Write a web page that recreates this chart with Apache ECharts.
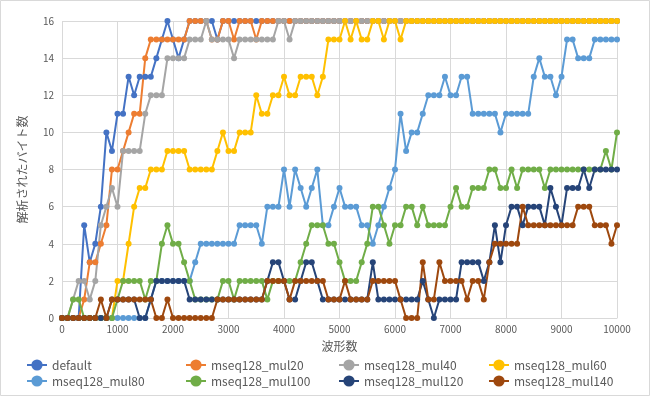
<!DOCTYPE html>
<html>
<head>
<meta charset="utf-8">
<script src="https://cdn.jsdelivr.net/npm/echarts@6/dist/echarts.min.js"></script>
<style>
  html, body { margin: 0; padding: 0; background: #fff; }
  #chart { width: 650px; height: 396px; }
</style>
</head>
<body>
<div id="chart"></div>
<script>
// x axis: number of waveforms, one sample every 100
const waveStep = 100;
const xTicks = [0, 1000, 2000, 3000, 4000, 5000, 6000, 7000, 8000, 9000, 10000];
const yTicks = [0, 2, 4, 6, 8, 10, 12, 14, 16];

const seriesNames = ['default', 'mseq128_mul20', 'mseq128_mul40', 'mseq128_mul60',
  'mseq128_mul80', 'mseq128_mul100', 'mseq128_mul120', 'mseq128_mul140'];
const colors = ['#4472C4', '#ED7D31', '#A5A5A5', '#FFC000', '#5B9BD5', '#70AD47', '#264478', '#9E480E'];

// decoded bytes per sample (0, 100, 200 ... 10000)
const vDefault = [0,0,0,0,5,3,4,6,10,9,
  11,11,13,12,13,13,13,14,15,16,
  15,14,15,16,16,16,16,16,15,16,
  16,16,16,16,16,16,16,16,16,16,
  16,16,16,16,16,16,16,16,16,16,
  16,16,16,16,16,16,16,16,16,16,
  16,16,16,16,16,16,16,16,16,16,
  16,16,16,16,16,16,16,16,16,16,
  16,16,16,16,16,16,16,16,16,16,
  16,16,16,16,16,16,16,16,16,16,
  16];
const vMul20 = [0,0,0,0,1,3,3,4,5,8,
  8,9,10,11,11,14,15,15,15,15,
  15,15,15,16,16,16,16,15,15,16,
  16,15,16,16,16,15,16,16,16,16,
  16,16,16,16,16,16,16,16,16,16,
  16,16,16,16,16,16,16,16,16,16,
  16,16,16,16,16,16,16,16,16,16,
  16,16,16,16,16,16,16,16,16,16,
  16,16,16,16,16,16,16,16,16,16,
  16,16,16,16,16,16,16,16,16,16,
  16];
const vMul40 = [0,0,1,2,2,1,2,5,6,7,
  6,9,9,9,9,11,12,12,12,14,
  14,14,14,15,15,15,16,15,15,15,
  15,14,15,15,15,15,15,15,15,16,
  16,15,16,16,16,16,16,16,16,16,
  16,16,16,16,16,16,16,16,16,16,
  16,16,16,16,16,16,16,16,16,16,
  16,16,16,16,16,16,16,16,16,16,
  16,16,16,16,16,16,16,16,16,16,
  16,16,16,16,16,16,16,16,16,16,
  16];
const vMul60 = [0,0,0,0,0,0,0,0,0,0,
  2,2,4,6,7,7,8,8,8,9,
  9,9,9,8,8,8,8,8,9,10,
  9,9,10,10,10,12,11,11,12,12,
  13,12,12,13,13,13,12,13,15,15,
  15,16,15,16,15,15,16,16,15,16,
  16,15,16,16,16,16,16,16,16,16,
  16,16,16,16,16,16,16,16,16,16,
  16,16,16,16,16,16,16,16,16,16,
  16,16,16,16,16,16,16,16,16,16,
  16];
const vMul80 = [0,0,0,0,0,0,0,0,0,0,
  0,0,0,0,0,0,1,2,2,2,
  2,2,2,2,3,4,4,4,4,4,
  4,4,5,5,5,5,4,6,6,6,
  8,6,8,7,6,7,8,5,5,6,
  7,6,6,6,5,5,4,5,6,7,
  8,11,9,10,10,11,12,12,12,13,
  12,12,13,13,11,11,11,11,11,10,
  11,11,11,11,11,13,14,13,13,12,
  13,15,15,14,14,14,15,15,15,15,
  15];
const vMul100 = [0,0,1,1,0,0,0,0,0,0,
  1,2,2,2,2,1,2,2,4,5,
  4,4,3,2,1,1,1,1,1,2,
  2,1,2,2,2,2,2,1,2,2,
  2,2,2,3,4,5,5,5,4,4,
  3,2,2,2,3,4,6,6,5,4,
  5,5,6,6,5,6,5,5,5,5,
  6,7,6,6,7,7,7,8,8,7,
  7,8,7,8,8,8,8,7,8,8,
  8,8,8,8,8,8,8,8,9,8,
  10];
const vMul120 = [0,0,0,0,0,0,0,0,0,1,
  1,1,1,1,0,0,1,2,2,2,
  2,2,2,1,1,1,1,1,1,1,
  1,1,1,1,1,1,1,2,3,3,
  2,1,1,2,3,3,2,1,1,1,
  1,1,1,1,1,1,3,1,1,1,
  1,1,1,1,1,2,1,0,1,1,
  1,1,3,3,3,3,2,3,5,3,
  5,6,6,5,6,6,6,5,7,6,
  5,7,7,7,8,7,8,8,8,8,
  8];
const vMul140 = [0,0,0,0,0,0,0,1,0,1,
  1,1,1,1,1,1,1,0,0,1,
  0,0,0,0,0,0,0,0,1,1,
  1,1,1,1,1,1,1,2,2,2,
  2,1,2,2,2,2,2,2,1,1,
  1,2,1,1,1,1,2,2,2,2,
  2,1,0,0,0,3,1,1,3,2,
  2,2,2,1,2,2,1,3,4,4,
  4,4,4,6,5,5,5,5,5,5,
  5,5,5,6,6,6,5,5,5,4,
  5];

const allValues = [vDefault, vMul20, vMul40, vMul60, vMul80, vMul100, vMul120, vMul140];

const font = '"Noto Sans CJK JP", "Noto Sans", sans-serif';
const textColor = '#595959';

const series = seriesNames.map((name, k) => ({
  name: name,
  type: 'line',
  data: allValues[k].map((v, i) => [i * waveStep, v]),
  symbol: 'circle',
  symbolSize: 6,
  showAllSymbol: true,
  itemStyle: { color: colors[k] },
  lineStyle: { color: colors[k], width: 2 },
  emphasis: { disabled: true }
}));

// legend laid out in four columns, two rows
const legendCols = [
  { left: 26, data: ['default', 'mseq128_mul80'] },
  { left: 185, data: ['mseq128_mul20', 'mseq128_mul100'] },
  { left: 338, data: ['mseq128_mul40', 'mseq128_mul120'] },
  { left: 488, data: ['mseq128_mul60', 'mseq128_mul140'] }
];

const option = {
  animation: false,
  backgroundColor: '#fff',
  textStyle: { fontFamily: font },
  graphic: [{
    type: 'rect',
    shape: { x: 0.5, y: 0.5, width: 649, height: 395 },
    style: { fill: 'none', stroke: '#d9d9d9', lineWidth: 1 },
    silent: true
  }],
  grid: { left: 62, right: 33, top: 21, bottom: 78 },
  legend: legendCols.map(c => ({
    data: c.data,
    left: c.left,
    top: 359,
    orient: 'vertical',
    padding: 0,
    height: 36,
    itemGap: 4,
    itemWidth: 20,
    itemHeight: 14,
    textStyle: { color: textColor, fontSize: 12, fontFamily: font }
  })),
  xAxis: {
    type: 'value',
    min: xTicks[0],
    max: xTicks[xTicks.length - 1],
    interval: 1000,
    name: '波形数',
    nameLocation: 'middle',
    nameGap: 22,
    nameTextStyle: { color: textColor, fontSize: 12 },
    axisLine: { show: true, lineStyle: { color: '#d9d9d9' } },
    axisTick: { show: false },
    axisLabel: { color: textColor, fontSize: 10, margin: 6, formatter: v => String(v) },
    splitLine: { show: true, lineStyle: { color: '#d9d9d9' } }
  },
  yAxis: {
    type: 'value',
    min: yTicks[0],
    max: yTicks[yTicks.length - 1],
    interval: 2,
    name: '解析されたバイト数',
    nameLocation: 'middle',
    nameRotate: 90,
    nameGap: 34,
    nameTextStyle: { color: textColor, fontSize: 12 },
    axisLine: { show: false },
    axisTick: { show: false },
    axisLabel: { color: textColor, fontSize: 10, margin: 8 },
    splitLine: { show: true, lineStyle: { color: '#d9d9d9' } }
  },
  series: series
};

const myChart = echarts.init(document.getElementById('chart'));
myChart.setOption(option);
</script>
</body>
</html>
